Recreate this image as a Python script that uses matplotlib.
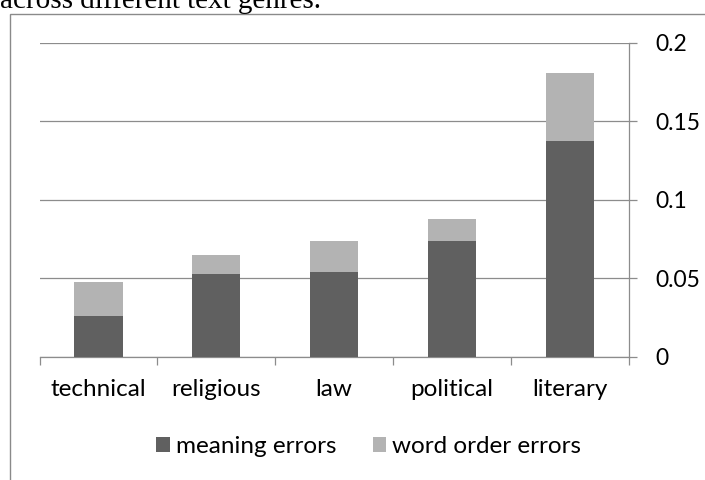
import numpy as np
import matplotlib
matplotlib.use("Agg")
import matplotlib.pyplot as plt
from matplotlib.patches import Rectangle

# error rates per genre
genres = ["technical", "religious", "law", "political", "literary"]
meaning_errors = [0.0259, 0.0527, 0.0537, 0.0739, 0.1376]
word_order_errors = [0.0219, 0.0121, 0.0202, 0.0140, 0.0431]
yticks = [0, 0.05, 0.1, 0.15, 0.2]

DARK = "#606060"
LIGHT = "#b3b3b3"
GRID = "#8c8c8c"

plt.rcParams['font.family'] = ['Lato', 'DejaVu Sans']

fig = plt.figure(figsize=(7.05, 4.8), dpi=100)
ax = fig.add_axes([0.0562, 0.2569, 0.8354, 0.654])

x = np.arange(len(genres))
ax.bar(x, meaning_errors, width=0.41, color=DARK, label="meaning errors", zorder=3)
ax.bar(x, word_order_errors, width=0.41, bottom=meaning_errors, color=LIGHT,
       label="word order errors", zorder=3)

ax.set_xlim(-0.5, len(genres) - 0.5)
ax.set_ylim(0, 0.2)

# y axis on the right
ax.yaxis.tick_right()
ax.set_yticks(yticks)
ax.set_yticklabels([f"{v:g}" for v in yticks])
ax.grid(axis='y', color=GRID, linewidth=0.9, zorder=0)
ax.tick_params(axis='y', which='major', length=6, width=0.9, color=GRID,
               labelsize=16.5, pad=13)

# category labels centred, tick marks between categories
ax.set_xticks(x)
ax.set_xticklabels(genres)
ax.set_xticks(np.arange(len(genres) + 1) - 0.5, minor=True)
ax.tick_params(axis='x', which='major', length=0, labelsize=17.5, pad=16)
ax.tick_params(axis='x', which='minor', length=6, width=0.9, color=GRID)

for s in ['top', 'left']:
    ax.spines[s].set_visible(False)
for s in ['right', 'bottom']:
    ax.spines[s].set_color(GRID)
    ax.spines[s].set_linewidth(0.9)

fig.legend(loc='center', bbox_to_anchor=(0.523, 0.069), ncol=2, frameon=False,
           fontsize=17.5, handlelength=0.55, handleheight=0.55, handletextpad=0.25,
           columnspacing=1.5)

# chart frame (runs off the page on right/bottom)
fig.patches.append(Rectangle((10 / 705, -0.1), 1.2, (480 - 14) / 480 + 0.1,
                             transform=fig.transFigure, fill=False,
                             edgecolor='#8a8a8a', linewidth=1.0))

# caption text from the page above, partly cut off
fig.text(0.0, 0.983, "across different text genres.", family='Liberation Serif',
         fontsize=21, va='baseline', ha='left')

fig.savefig("out.png", dpi=100)
